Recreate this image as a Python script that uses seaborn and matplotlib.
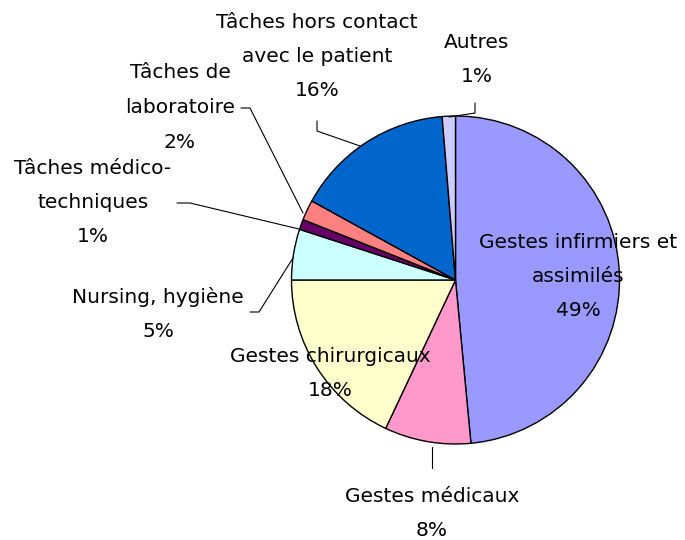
import matplotlib
matplotlib.use("Agg")
import matplotlib.pyplot as plt
import seaborn as sns

# data
categories = ["Gestes infirmiers et\nassimilés", "Gestes médicaux", "Gestes chirurgicaux",
              "Nursing, hygiène", "Tâches médico-\ntechniques", "Tâches de\nlaboratoire",
              "Tâches hors contact\navec le patient", "Autres"]
shares = [48.5, 8.5, 18, 5, 1, 2, 15.7, 1.3]   # slice sizes
pct_labels = ["49%", "8%", "18%", "5%", "1%", "2%", "16%", "1%"]
colors = ["#9999FF", "#FF99CC", "#FFFFCC", "#CCFFFF", "#660066", "#FF8080", "#0066CC", "#CCCCFF"]

sns.set_style("white")
plt.rcParams['font.family'] = ['DejaVu Sans']

fig = plt.figure(figsize=(6.85, 5.4), dpi=100)
ax = fig.add_axes([0, 0, 1, 1])

H = 540
cx, cy, r = 455.5, H - 280, 164

ax.pie(shares, colors=colors, startangle=90, counterclock=False,
       center=(cx, cy), radius=r, frame=True,
       wedgeprops=dict(edgecolor="black", linewidth=1.0))
ax.set_xlim(0, 685)
ax.set_ylim(0, 540)
ax.set_aspect("auto")
ax.axis("off")

# label positions (pixel coords, top-left origin) : x, first line y
label_pos = [(578, 242), (432, 496), (330, 356), (158, 297),
             (93, 168), (180, 73), (317, 22), (477, 42)]
for name, p, (x, y) in zip(categories, pct_labels, label_pos):
    lines = name.split("\n") + [p]
    for i, line in enumerate(lines):
        ax.text(x, H - (y + i * 34.5), line, ha="center", va="center",
                fontsize=14.5, color="black")

# leader lines
leaders = [
    [(317, 121), (317, 131), (360, 146)],
    [(475, 103), (475, 113), (449, 117)],
    [(241, 108), (250, 108), (303, 213)],
    [(177, 203), (190, 203), (299, 229)],
    [(250, 312), (259, 312), (293, 258)],
    [(432, 447), (432, 468)],
]
for pts in leaders:
    xs = [p[0] for p in pts]
    ys = [H - p[1] for p in pts]
    ax.plot(xs, ys, color="black", linewidth=0.8)

fig.savefig("out.png", dpi=100)
